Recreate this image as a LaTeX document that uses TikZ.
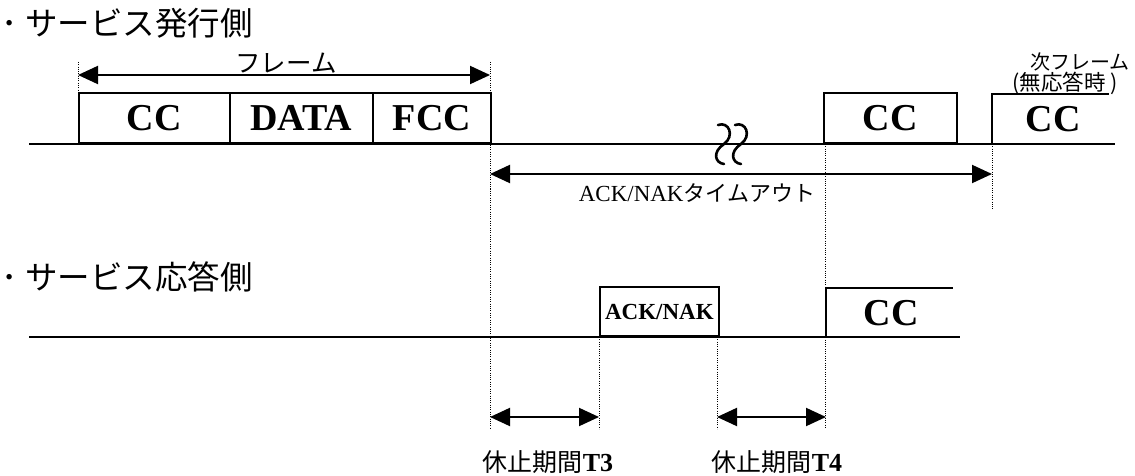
\documentclass[tikz,border=0pt]{standalone}
\usepackage{fontspec}
\setmainfont{Liberation Serif}
\newfontfamily\cjk{Noto Sans CJK JP}
\usetikzlibrary{arrows.meta}
\begin{document}
\begin{tikzpicture}[x=1pt,y=-1pt,
  box/.style={draw, line width=1.7pt, inner sep=0pt, anchor=south west,
    font=\fontsize{38}{38}\selectfont\bfseries},
  big/.style={inner sep=0pt, font=\fontsize{38}{38}\selectfont\bfseries},
  wire/.style={line width=1.7pt},
  dim/.style={{Triangle[length=20pt,width=18pt]}-{Triangle[length=20pt,width=18pt]}, line width=2pt},
  guide/.style={line width=1pt, dash pattern=on 1pt off 1.3pt},
  jp/.style={font=\cjk\fontsize{#1}{#1}\selectfont, inner sep=0pt},
  squig/.style={line width=2.6pt, line cap=round}
]
\useasboundingbox (0,0) rectangle (1135,476);

% titles
\node[jp=32.5, anchor=west] (t1) at (1,23) {･\kern8pt サービス発行側};
\node[jp=32.5, anchor=west] (t2) at (1,277) {･\kern8pt サービス応答側};

% ---------------- issuing side ----------------
\coordinate (bl1) at (29,144);
\coordinate (br1) at (1115,144);
\draw[wire] (bl1) -- (br1);

\node[box, minimum width=151pt, minimum height=50pt] (cc1) at (78,144) {CC};
\node[box, minimum width=143pt, minimum height=50pt] (data) at (229,144) {DATA};
\node[box, minimum width=118pt, minimum height=50pt] (fcc) at (372,144) {FCC};
\node[box, minimum width=133pt, minimum height=50pt] (cc2) at (823,144) {CC};

\coordinate (n1) at (992,144);
\coordinate (n2) at (992,94);
\coordinate (n3) at (1109,94);
\draw[wire] (n1) -- (n2) -- (n3);
\node[big] (cc3) at (1053,119) {CC};

\node[jp=20] (nx1) at (1080,62) {次フレーム};
\node[jp=21.5] (nx2) at (1065,83) {(無応答時 )};

% frame dimension
\coordinate (fL) at (78,75);
\coordinate (fR) at (490,75);
\draw[dim] (fL) -- (fR);
\node[jp=25.5] (flab) at (286,63) {フレーム};

% break mark
\draw[squig] (718,125) .. controls (729,121) and (735,136) .. (724,144)
             .. controls (712,152) and (715,163) .. (724,164);
\draw[squig] (735,125) .. controls (746,121) and (752,136) .. (741,144)
             .. controls (729,152) and (732,163) .. (741,164);

% timeout
\coordinate (toL) at (490,174);
\coordinate (toR) at (992,174);
\draw[dim] (toL) -- (toR);
\node[inner sep=0pt] (tolab) at (697,193)
  {{\fontsize{23}{23}\selectfont ACK/NAK}{\cjk\fontsize{22}{22}\selectfont タイムアウト}};

% ---------------- responding side ----------------
\coordinate (bl2) at (29,337);
\coordinate (br2) at (960,337);
\draw[wire] (bl2) -- (br2);

\node[box, minimum width=119pt, minimum height=49pt,
  font=\fontsize{23}{23}\selectfont\bfseries] (ack) at (599,337) {ACK/NAK};

\coordinate (r1) at (826,337);
\coordinate (r2) at (826,288);
\coordinate (r3) at (953,288);
\draw[wire] (r1) -- (r2) -- (r3);
\node[big] (cc4) at (891,313) {CC};

% guides
\coordinate (g1a) at (78,62);   \coordinate (g1b) at (78,144);
\coordinate (g2a) at (490,62);  \coordinate (g2b) at (490,429);
\coordinate (g3a) at (825,144); \coordinate (g3b) at (825,429);
\coordinate (g4a) at (992,144); \coordinate (g4b) at (992,210);
\coordinate (g5a) at (599,337); \coordinate (g5b) at (599,429);
\coordinate (g6a) at (717,337); \coordinate (g6b) at (717,429);
\foreach \g in {1,...,6} \draw[guide] (g\g a) -- (g\g b);

% idle periods
\coordinate (t3L) at (490,417); \coordinate (t3R) at (599,417);
\coordinate (t4L) at (717,417); \coordinate (t4R) at (826,417);
\draw[dim] (t3L) -- (t3R);
\draw[dim] (t4L) -- (t4R);
\node[inner sep=0pt] (l3) at (548,462)
  {{\cjk\fontsize{25}{25}\selectfont 休止期間}{\fontsize{26}{26}\selectfont\bfseries T3}};
\node[inner sep=0pt] (l4) at (777,462)
  {{\cjk\fontsize{25}{25}\selectfont 休止期間}{\fontsize{26}{26}\selectfont\bfseries T4}};
\end{tikzpicture}
\end{document}
